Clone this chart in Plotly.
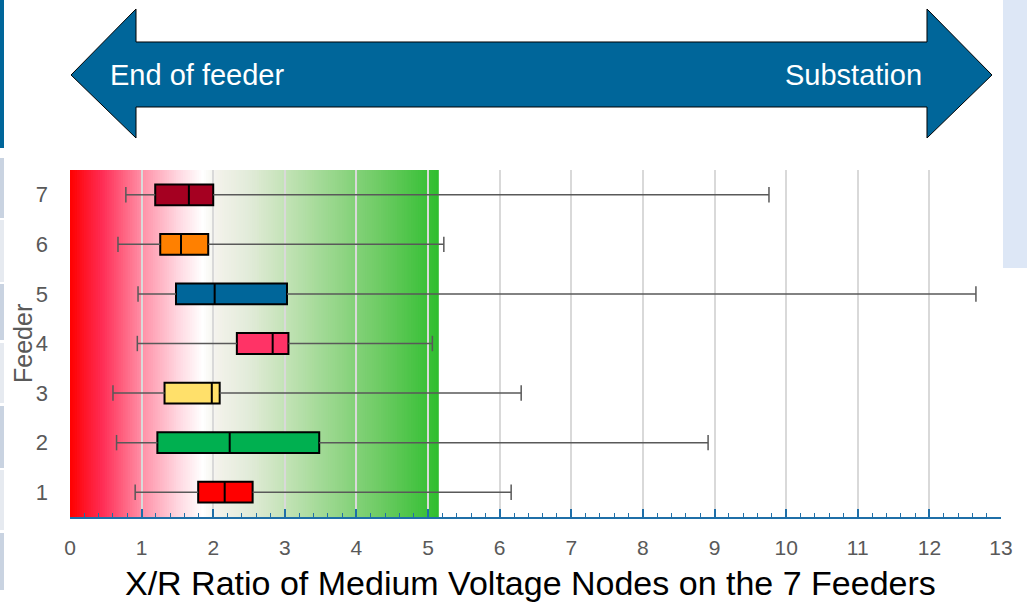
import plotly.graph_objects as go

# feeder box stats
feeders = [1, 2, 3, 4, 5, 6, 7]
lower = [0.91, 0.65, 0.60, 0.94, 0.95, 0.67, 0.78]
q1 = [1.79, 1.22, 1.32, 2.33, 1.48, 1.26, 1.19]
median = [2.16, 2.23, 1.98, 2.83, 2.02, 1.55, 1.66]
q3 = [2.55, 3.48, 2.09, 3.05, 3.03, 1.93, 2.00]
upper = [6.16, 8.91, 6.30, 5.06, 12.65, 5.22, 9.76]
colors = ['#FF0000', '#00B050', '#FFE06A', '#FF3366', '#00669A', '#FF8000', '#A50021']

x_ticks = list(range(0, 14))
zone_end = 5.15
grad_stops = [(0.0, '#FF0000'), (0.45, '#FF2D55'), (1.0, '#FF8FA6'), (1.5, '#FFD6DF'),
              (1.85, '#FFFFFF'), (2.05, '#F3F2EB'), (2.5, '#E2EBD9'), (3.0, '#C4E3B7'),
              (3.6, '#9CD890'), (4.3, '#70CC66'), (zone_end, '#2FBE2F')]

W, H = 1027, 602
ML, MR, MT, MB = 70, 26, 170, 85
PW, PH = W - ML - MR, H - MT - MB


def px(x):
    return (x - ML) / PW


def py(y):
    return (H - MB - y) / PH


def hex2rgb(h):
    h = h.lstrip('#')
    return [int(h[i:i + 2], 16) for i in (0, 2, 4)]


def grad_color(v):
    for (a, ca), (b, cb) in zip(grad_stops[:-1], grad_stops[1:]):
        if a <= v <= b:
            t = (v - a) / (b - a) if b > a else 0
            c1, c2 = hex2rgb(ca), hex2rgb(cb)
            r = [round(c1[i] + (c2[i] - c1[i]) * t) for i in range(3)]
            return 'rgb(%d,%d,%d)' % tuple(r)
    return grad_stops[-1][1]


fig = go.Figure()

# whiskers
for f, lo, a, b, hi in zip(feeders, lower, q1, q3, upper):
    fig.add_trace(go.Scatter(x=[lo, a, None, b, hi], y=[f, f, None, f, f], mode='lines',
                             line=dict(color='#595959', width=1.5), hoverinfo='skip'))
    fig.add_trace(go.Scatter(x=[lo, hi], y=[f, f], mode='markers',
                             marker=dict(symbol='line-ns', size=11,
                                         line=dict(color='#595959', width=1.5)),
                             hoverinfo='skip'))

# boxes
for f, a, m, b, c in zip(feeders, q1, median, q3, colors):
    fig.add_trace(go.Box(y=[f], q1=[a], median=[m], q3=[b], lowerfence=[a], upperfence=[b],
                         orientation='h', width=0.42, fillcolor=c,
                         line=dict(color='black', width=2)))

shapes = []
# red -> green background band
n = 160
step = zone_end / n
for i in range(n):
    x0 = i * step
    shapes.append(dict(type='rect', xref='x', yref='paper', x0=x0, x1=min(x0 + step * 1.6, zone_end),
                       y0=0, y1=1, fillcolor=grad_color(x0 + step / 2), line_width=0, layer='below'))

# double arrow
pts = [(71, 75), (136, 9), (136, 42), (927, 42), (927, 9), (992, 75), (927, 138),
       (927, 107), (136, 107), (136, 138)]
path = 'M ' + ' L '.join('%.4f,%.4f' % (px(x), py(y)) for x, y in pts) + ' Z'
shapes.append(dict(type='path', xref='paper', yref='paper', path=path,
                   fillcolor='#00669A', line=dict(color='black', width=1)))

# slide edges
shapes.append(dict(type='rect', xref='paper', yref='paper', x0=px(0), x1=px(4), y0=py(0), y1=py(148),
                   fillcolor='#00669A', line_width=0))
segs = [(158, 218), (220, 282), (284, 340), (343, 403), (406, 468), (470, 530), (533, 590)]
for k, (a, b) in enumerate(segs):
    shapes.append(dict(type='rect', xref='paper', yref='paper', x0=px(0), x1=px(4), y0=py(a), y1=py(b),
                       fillcolor='#C9D3E1' if k % 2 == 0 else '#E6EAF0', line_width=0))
shapes.append(dict(type='rect', xref='paper', yref='paper', x0=px(1003), x1=px(1027), y0=py(0), y1=py(268),
                   fillcolor='#DDE7F6', line_width=0))

annotations = [
    dict(text='End of feeder', x=px(197), y=py(75)),
    dict(text='Substation', x=px(853), y=py(75)),
    dict(text='Feeder', x=px(23), y=py(344), textangle=-90, font=dict(size=25, color='#595959')),
    dict(text='X/R Ratio of Medium Voltage Nodes on the 7 Feeders', x=px(530), y=py(583),
         font=dict(size=34, color='black')),
]
for a in annotations:
    a.update(xref='paper', yref='paper', showarrow=False, xanchor='center', yanchor='middle')
    a.setdefault('font', dict(size=29, color='white'))

fig.update_layout(
    width=W, height=H,
    margin=dict(l=ML, r=MR, t=MT, b=MB),
    paper_bgcolor='white', plot_bgcolor='white',
    font=dict(family='Liberation Sans, Arial, sans-serif'),
    showlegend=False,
    shapes=shapes,
    annotations=annotations,
    xaxis=dict(range=[0, 13], tickvals=x_ticks, showgrid=True, gridcolor='#D9D9D9', gridwidth=1.5,
               showline=True, linecolor='#1F6FA8', linewidth=2, ticks='inside', ticklen=8,
               tickcolor='#1F6FA8', tickwidth=2, zeroline=False, ticklabelstandoff=11,
               minor=dict(ticks='inside', ticklen=4, dtick=0.2, tickcolor='#1F6FA8', tickwidth=1, showgrid=False),
               tickfont=dict(size=21, color='#595959')),
    yaxis=dict(range=[0.5, 7.5], tickvals=feeders, showgrid=False, zeroline=False, showline=False,
               ticklabelstandoff=21, tickfont=dict(size=22, color='#595959')),
)

fig.write_html("out.html", config={'displayModeBar': False},
               post_script="document.body.style.margin='0';")
